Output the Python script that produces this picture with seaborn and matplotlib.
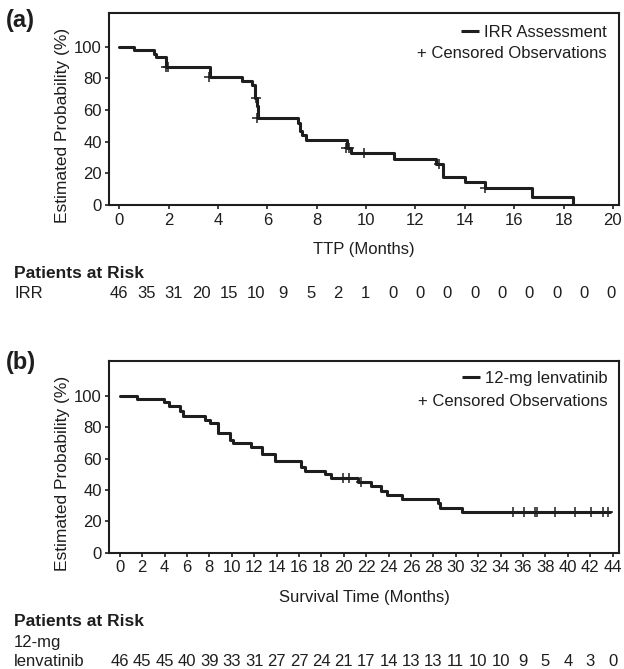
import numpy as np
import pandas as pd
import matplotlib
matplotlib.use("Agg")
import matplotlib.pyplot as plt
import matplotlib.transforms as mtransforms
from matplotlib.lines import Line2D
import seaborn as sns

# ---------------- data ----------------
# Panel (a): TTP, IRR assessment (Kaplan-Meier step curve)
times_a = [0, 0.61, 1.41, 1.49, 1.88, 3.68, 4.99, 5.39, 5.50, 5.57, 5.62, 7.23, 7.33,
           7.42, 7.57, 9.22, 9.40, 11.12, 12.83, 13.10, 14.00, 14.83, 16.72, 18.38]
surv_a = [100, 97.8, 95.7, 93.5, 87.0, 80.6, 78.4, 76.1, 67.8, 62.4, 54.8, 52.0, 46.6,
          44.0, 41.3, 35.8, 32.6, 28.9, 26.1, 17.9, 14.6, 10.7, 5.3, 0]
cens_a_t = [1.88, 1.99, 3.62, 5.52, 5.60, 9.18, 9.30, 9.90, 12.95, 14.80]
cens_a_s = [87.0, 87.0, 80.6, 67.8, 54.8, 35.8, 35.8, 32.6, 26.1, 10.7]
risk_a = [46, 35, 31, 20, 15, 10, 9, 5, 2, 1, 0, 0, 0, 0, 0, 0, 0, 0, 0]

# Panel (b): overall survival, 12-mg lenvatinib
times_b = [0, 1.52, 3.98, 4.43, 5.38, 5.62, 7.62, 8.06, 8.80, 9.85, 10.14, 11.70, 12.68,
           13.87, 16.20, 16.50, 18.36, 18.90, 21.28, 22.47, 23.36, 23.87, 25.20, 28.42,
           28.63, 30.56, 43.80]
surv_b = [100, 97.8, 95.7, 93.5, 90.2, 87.0, 84.8, 82.6, 76.1, 71.7, 69.6, 67.4, 63.0,
          58.7, 54.3, 52.2, 50.0, 47.8, 45.0, 42.8, 39.6, 36.9, 34.4, 31.6, 28.7, 25.9, 25.9]
cens_b_t = [19.94, 20.45, 21.57, 35.12, 36.10, 37.05, 37.29, 38.84, 40.68, 42.05, 43.13, 43.60]
cens_b_s = [47.8, 47.8, 45.0, 25.9, 25.9, 25.9, 25.9, 25.9, 25.9, 25.9, 25.9, 25.9]
risk_b = [46, 45, 45, 40, 39, 33, 31, 27, 27, 24, 21, 17, 14, 13, 13, 11, 10, 10, 9, 5, 4, 3, 0]

xticks_a = list(range(0, 21, 2))
xticks_b = list(range(0, 45, 2))
yticks = list(range(0, 101, 20))

# ---------------- style ----------------
sns.set_theme(style="white")
plt.rcParams["font.family"] = ["Liberation Sans", "DejaVu Sans"]
INK = "#1e1e1e"
FS = 12

W, H = 624, 669
fig = plt.figure(figsize=(W / 100, H / 100), dpi=100)


def px_axes(l, t, r, b):
    return fig.add_axes([l / W, 1 - b / H, (r - l) / W, (b - t) / H])


axA = px_axes(109.3, 12.7, 619.3, 205.0)
axB = px_axes(109.3, 360.7, 619.3, 552.7)


def km_panel(ax, times, surv, ct, cs, xticks, xlim, ylim, xlabel):
    df = pd.DataFrame({"t": times, "s": surv})
    sns.lineplot(data=df, x="t", y="s", ax=ax, drawstyle="steps-post", color=INK,
                 linewidth=2.2, estimator=None, sort=False)
    dfc = pd.DataFrame({"t": ct, "s": cs})
    sns.scatterplot(data=dfc, x="t", y="s", ax=ax, marker="+", s=45, color=INK,
                    linewidth=1.1, zorder=5)
    ax.set_xlim(*xlim)
    ax.set_ylim(*ylim)
    ax.set_xticks(xticks)
    ax.set_yticks(yticks)
    ax.tick_params(direction="out", length=3, width=1.2, labelsize=FS, pad=2.5,
                   bottom=True, left=True, top=False, right=False, colors=INK)
    for sp in ax.spines.values():
        sp.set_visible(True)
        sp.set_linewidth(1.5)
        sp.set_color(INK)
    ax.set_xlabel(xlabel, fontsize=FS, color=INK)
    ax.xaxis.label.set_va("center")
    ax.xaxis.set_label_coords(0.5, -0.232)
    ax.set_ylabel("Estimated Probability (%)", fontsize=12.5, color=INK)
    ax.yaxis.set_label_coords(-0.077, 0.415)
    ax.grid(False)


km_panel(axA, times_a, surv_a, cens_a_t, cens_a_s, xticks_a, (-0.405, 20.26), (0, 121.5),
         "TTP (Months)")
km_panel(axB, times_b, surv_b, cens_b_t, cens_b_s, xticks_b, (-0.93, 44.6), (0, 122.3),
         "Survival Time (Months)")

# panel letters
fig.text(6 / W, 1 - 20 / H, "(a)", fontsize=17, fontweight="bold", va="center", ha="left", color=INK)
fig.text(6 / W, 1 - 362 / H, "(b)", fontsize=17, fontweight="bold", va="center", ha="left", color=INK)

# legend-like annotations (right aligned)
legend_specs = [
    (axA, "IRR Assessment", 0.976, 0.875, 0.766),
    (axB, "12-mg lenvatinib", 0.978, 0.885, 0.764),
]
label_texts = []
for ax, name, xr, y1, y2 in legend_specs:
    t1 = ax.text(xr, y1, name, transform=ax.transAxes, ha="right", va="baseline",
                 fontsize=FS, color=INK)
    ax.text(xr, y2, "+ Censored Observations", transform=ax.transAxes, ha="right",
            va="baseline", fontsize=FS, color=INK)
    label_texts.append((ax, t1))

# patients at risk tables
def risk_rows(ax, values, xs, y_head, y_rows, row_labels):
    tr = mtransforms.blended_transform_factory(ax.transData, fig.transFigure)
    fig.text(14 / W, 1 - y_head / H, "Patients at Risk", fontsize=12.5, fontweight="bold",
             va="center", ha="left", color=INK)
    for lab, yy in row_labels:
        fig.text(14 / W, 1 - yy / H, lab, fontsize=FS, va="center", ha="left", color=INK)
    for x, v in zip(xs, values):
        ax.text(x, 1 - y_rows / H, str(v), transform=tr, fontsize=FS, ha="center",
                va="center", color=INK, clip_on=False)


risk_rows(axA, risk_a, np.linspace(0, 19.93, len(risk_a)), 273, 293, [("IRR", 293)])
risk_rows(axB, risk_b, xticks_b, 622, 661, [("12-mg", 643), ("lenvatinib", 661)])

# draw thick dash before series names
fig.canvas.draw()
inv = fig.transFigure.inverted()
for ax, t in label_texts:
    bb = t.get_window_extent()
    x_end = bb.x0 - 5
    x_start = x_end - 18
    # baseline in display coords
    yb = ax.transAxes.transform((0, t.get_position()[1]))[1]
    yc = yb + 5.5
    p0 = inv.transform((x_start, yc))
    p1 = inv.transform((x_end, yc))
    fig.add_artist(Line2D([p0[0], p1[0]], [p0[1], p1[1]], color=INK, linewidth=2.2,
                          transform=fig.transFigure, solid_capstyle="butt"))

fig.savefig("out.png", dpi=100)
